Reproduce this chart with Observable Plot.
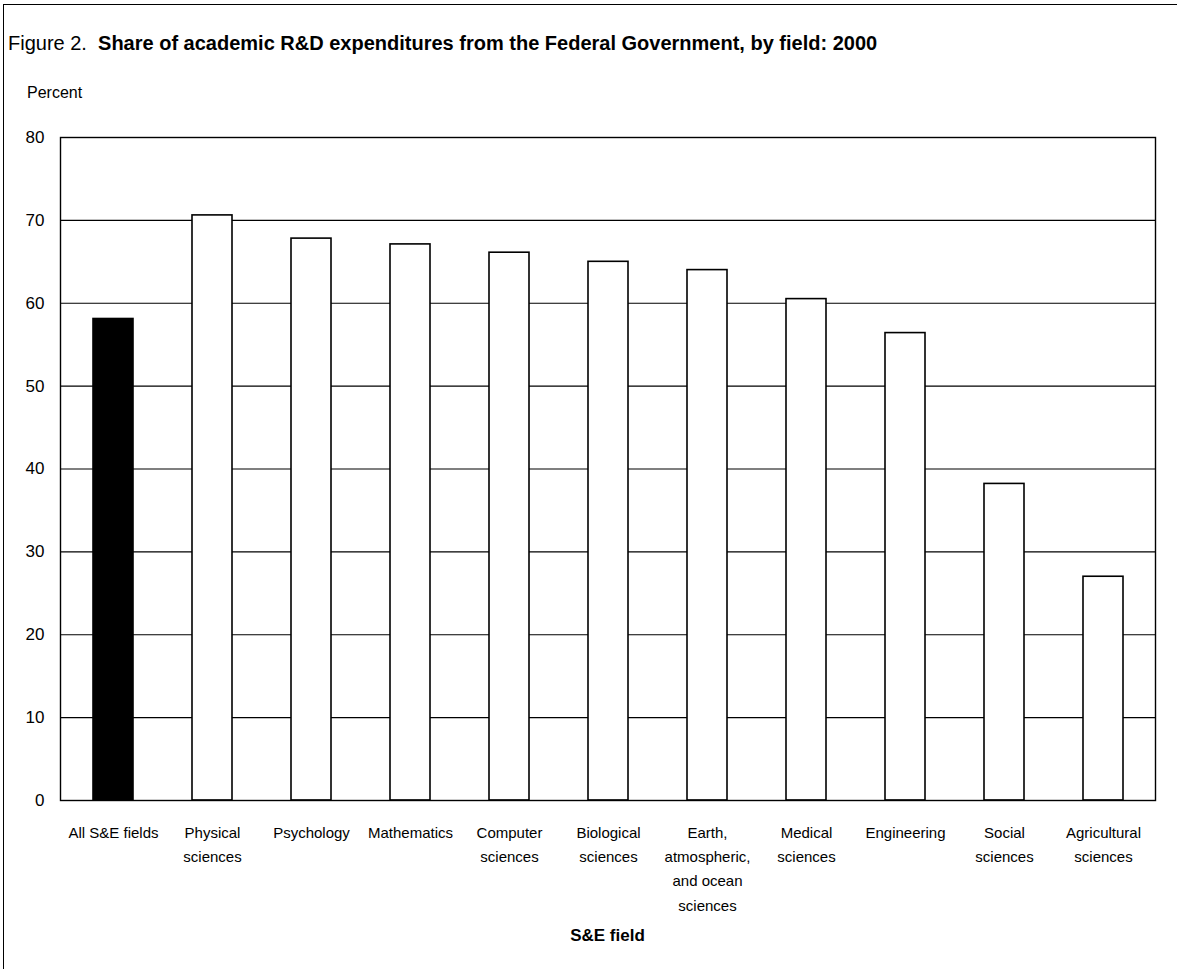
<!DOCTYPE html>
<html><head><meta charset="utf-8">
<script src="https://cdn.jsdelivr.net/npm/d3@7"></script>
<script src="https://cdn.jsdelivr.net/npm/@observablehq/plot@0.6"></script>
<style>
body{margin:0;background:#fff;}
#wrap{position:relative;width:1177px;height:969px;overflow:hidden;font-family:"Liberation Sans Narrow","Arial Narrow","Liberation Sans",Arial,sans-serif;color:#000;}
#border{position:absolute;left:3px;top:4px;width:1200px;height:1000px;border-left:1.5px solid #000;border-top:1.5px solid #000;z-index:5;pointer-events:none;}
#title{position:absolute;left:8px;top:32px;font-size:20px;white-space:nowrap;}
#title b{font-weight:bold;}
#ylab{position:absolute;left:27px;top:84px;font-size:16px;}
#xlab{position:absolute;left:60px;width:1095px;top:926px;text-align:center;font-size:17px;font-weight:bold;}
#chart{position:absolute;left:0;top:120px;}
#chart svg{font-family:"Liberation Sans Narrow","Arial Narrow","Liberation Sans",Arial,sans-serif;}
</style></head>
<body>
<div id="wrap">
<div id="title">Figure 2.&nbsp; <b>Share of academic R&amp;D expenditures from the Federal Government, by field: 2000</b></div>
<div id="ylab">Percent</div>
<div id="chart"></div>
<div id="xlab">S&amp;E field</div>
<div id="border"></div>
</div>
<script>
const fields = ["All S&E fields", "Physical\nsciences", "Psychology", "Mathematics", "Computer\nsciences", "Biological\nsciences", "Earth,\natmospheric,\nand ocean\nsciences", "Medical\nsciences", "Engineering", "Social\nsciences", "Agricultural\nsciences"];
const values = [58.1, 70.6, 67.8, 67.1, 66.1, 65.0, 64.0, 60.5, 56.4, 38.2, 27.0];
const highlight = "All S&E fields";
const yTicks = [0, 10, 20, 30, 40, 50, 60, 70, 80];

const data = fields.map((f, i) => ({field: f, value: values[i]}));

const chart = Plot.plot({
  width: 1177,
  height: 849,
  marginTop: 17,
  marginBottom: 169,
  marginLeft: 60,
  marginRight: 22,
  style: {background: "transparent", color: "black"},
  x: {domain: fields, paddingInner: 0.6, paddingOuter: 0.31, label: null},
  y: {domain: [0, 80], label: null},
  color: {type: "identity"},
  marks: [
    Plot.ruleY(yTicks.filter(t => t > 0 && t < 80), {stroke: "black", strokeWidth: 1.2}),
    Plot.barY(data, {x: "field", y: "value", fill: d => d.field === highlight ? "black" : "white", stroke: "black", strokeWidth: 1.6}),
    Plot.frame({stroke: "black", strokeWidth: 1.4}),
    Plot.axisY({ticks: yTicks, tickSize: 0, tickPadding: 16, fontSize: 17, label: null}),
    Plot.axisX({tickSize: 0, tickPadding: 20, fontSize: 15, lineHeight: 1.62, label: null})
  ]
});
document.getElementById("chart").appendChild(chart);
</script>
</body></html>
